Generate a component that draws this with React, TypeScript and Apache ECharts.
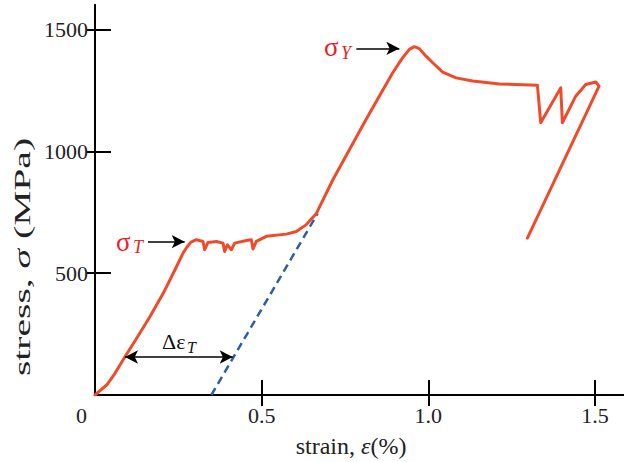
import React, { useEffect, useRef } from "react";
import * as echarts from "echarts";

const xTicks = [0, 0.5, 1.0, 1.5];
const yTicks = [500, 1000, 1500];

// measured stress-strain curve (strain %, stress MPa), in drawing order
const curveStrain = [
  0, 0.015, 0.035, 0.06, 0.09, 0.125, 0.165, 0.205, 0.24, 0.264, 0.276, 0.288, 0.304,
  0.324, 0.329, 0.339, 0.364, 0.384, 0.389, 0.397, 0.409, 0.419, 0.454, 0.469, 0.474,
  0.484, 0.514, 0.574, 0.604, 0.634, 0.664, 0.714, 0.813, 0.893, 0.923, 0.943, 0.958,
  0.973, 0.993, 1.013, 1.043, 1.083, 1.133, 1.213, 1.327, 1.337, 1.397, 1.402, 1.442,
  1.472, 1.502, 1.512, 1.297,
];
const curveStress = [
  0, 18, 41, 89, 157, 233, 322, 418, 514, 582, 607, 627, 637,
  630, 596, 626, 630, 623, 589, 616, 596, 623, 634, 637, 599,
  630, 651, 660, 671, 699, 745, 884, 1130, 1322, 1384, 1418, 1429,
  1421, 1390, 1363, 1325, 1301, 1288, 1276, 1271, 1117, 1260, 1117, 1226,
  1274, 1284, 1267, 644,
];

// elastic unloading line (dashed)
const unloadStrain = [0.349, 0.668];
const unloadStress = [0, 745];

// annotation arrows [x1, y1, x2, y2]
const sigmaTArrow = [0.159, 629, 0.269, 629];
const sigmaYArrow = [0.784, 1422, 0.913, 1422];
const deltaArrow = [0.09, 156, 0.413, 156];

const RED = "#ef4b2b";
const LABEL_RED = "#ea1c24";
const BLUE = "#2d5fa6";
const FONT = "'Liberation Serif', 'Times New Roman', serif";

export default function App() {
  const ref = useRef<HTMLDivElement>(null);
  useEffect(() => {
    document.body.style.margin = "0";
    if (!ref.current) return;
    const chart = echarts.init(ref.current, undefined, { renderer: "svg" });
    const curve = curveStrain.map((x, i) => [x, curveStress[i]]);
    const unload = unloadStrain.map((x, i) => [x, unloadStress[i]]);
    const seg = (a: number[]) => [{ coord: [a[0], a[1]] }, { coord: [a[2], a[3]] }];
    const axisLine = { show: true, lineStyle: { color: "#000", width: 2 } };
    chart.setOption({
      animation: false,
      backgroundColor: "#fff",
      grid: { left: 95, top: 5, width: 530, height: 390, containLabel: false },
      xAxis: [
        {
          type: "value",
          min: 0,
          max: 530 / 334,
          position: "bottom",
          axisLine,
          splitLine: { show: false },
          axisTick: {
            show: true,
            inside: true,
            length: 15,
            lineStyle: { color: "#000", width: 2 },
            customValues: xTicks.slice(1),
          },
          axisLabel: {
            customValues: xTicks,
            margin: 9,
            color: "#222",
            fontFamily: FONT,
            fontSize: 22,
            formatter: (v: number) => (v === 0 ? "{z|0}" : v.toFixed(1)),
            rich: {
              z: { fontFamily: FONT, fontSize: 22, color: "#222", padding: [0, 27, 0, 0] },
            },
          },
        },
        {
          type: "value",
          min: 0,
          max: 530 / 334,
          position: "top",
          axisLine,
          splitLine: { show: false },
          axisTick: {
            show: true,
            inside: true,
            length: 11,
            lineStyle: { color: "#000", width: 2 },
            customValues: xTicks.slice(1),
          },
          axisLabel: { show: false },
        },
      ],
      yAxis: [
        {
          type: "value",
          min: 0,
          max: 1600,
          position: "left",
          axisLine,
          splitLine: { show: false },
          axisTick: {
            show: true,
            inside: true,
            length: 16,
            lineStyle: { color: "#000", width: 2 },
            customValues: yTicks,
          },
          axisLabel: {
            customValues: yTicks,
            margin: 7,
            color: "#222",
            fontFamily: FONT,
            fontSize: 22,
            formatter: (v: number) => String(v),
          },
        },
        {
          type: "value",
          min: 0,
          max: 1600,
          position: "right",
          axisLine,
          splitLine: { show: false },
          axisTick: {
            show: true,
            inside: true,
            length: 8,
            lineStyle: { color: "#000", width: 2 },
            customValues: yTicks,
          },
          axisLabel: { show: false },
        },
      ],
      series: [
        {
          type: "line",
          data: unload,
          showSymbol: false,
          lineStyle: { color: BLUE, width: 2.5, type: [8, 5] },
          silent: true,
        },
        {
          type: "line",
          data: curve,
          showSymbol: false,
          smooth: false,
          lineStyle: { color: RED, width: 3, cap: "round", join: "round" },
          silent: true,
          markLine: {
            silent: true,
            symbol: ["none", "arrow"],
            symbolSize: [10, 13],
            label: { show: false },
            lineStyle: { color: "#000", width: 1.5, type: "solid" },
            data: [
              seg(sigmaTArrow),
              seg(sigmaYArrow),
              [
                { coord: [deltaArrow[0], deltaArrow[1]], symbol: "arrow" },
                { coord: [deltaArrow[2], deltaArrow[3]], symbol: "arrow" },
              ],
            ],
          },
        },
      ],
      graphic: [
        {
          type: "text",
          x: 351,
          y: 446,
          style: {
            text: "{n|strain, }{e|ε}{n|(%)}",
            align: "center",
            verticalAlign: "middle",
            rich: {
              n: { fontFamily: FONT, fontSize: 24, fill: "#222" },
              e: { fontFamily: FONT, fontSize: 24, fontStyle: "italic", fill: "#222" },
            },
          },
        },
        {
          type: "text",
          x: 22,
          y: 257,
          rotation: Math.PI / 2,
          scaleX: 1.72,
          style: {
            text: "{n|stress, }{e|σ}{n| (MPa)}",
            align: "center",
            verticalAlign: "middle",
            rich: {
              n: { fontFamily: FONT, fontSize: 23, fill: "#222" },
              e: { fontFamily: FONT, fontSize: 23, fontStyle: "italic", fill: "#222" },
            },
          },
        },
        { type: "text", x: 116, y: 242, style: { text: "σ", fontFamily: FONT, fontSize: 27, fill: LABEL_RED, verticalAlign: "middle" } },
        { type: "text", x: 133, y: 247, style: { text: "T", fontFamily: FONT, fontSize: 18, fontStyle: "italic", fill: LABEL_RED, verticalAlign: "middle" } },
        { type: "text", x: 324, y: 47, style: { text: "σ", fontFamily: FONT, fontSize: 27, fill: LABEL_RED, verticalAlign: "middle" } },
        { type: "text", x: 341, y: 53, style: { text: "Y", fontFamily: FONT, fontSize: 18, fontStyle: "italic", fill: LABEL_RED, verticalAlign: "middle" } },
        { type: "text", x: 162, y: 341, style: { text: "Δε", fontFamily: FONT, fontSize: 22, fill: "#111", verticalAlign: "middle" } },
        { type: "text", x: 187, y: 347, style: { text: "T", fontFamily: FONT, fontSize: 16, fontStyle: "italic", fill: "#111", verticalAlign: "middle" } },
      ],
    });
    return () => chart.dispose();
  }, []);
  return <div ref={ref} style={{ width: 624, height: 462 }} />;
}
